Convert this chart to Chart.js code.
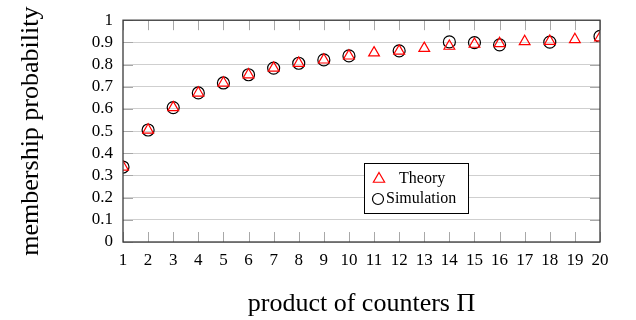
<!DOCTYPE html>
<html>
<head>
<meta charset="utf-8">
<script src="https://cdn.jsdelivr.net/npm/chart.js@4.4.0/dist/chart.umd.min.js"></script>
<style>
html,body{margin:0;padding:0;background:#fff;}
#wrap{width:636px;height:320px;position:relative;}
</style>
</head>
<body>
<div id="wrap"><canvas id="c" width="636" height="320"></canvas></div>
<script>
const products = [1,2,3,4,5,6,7,8,9,10,11,12,13,14,15,16,17,18,19,20];
const theory = [0.338,0.505,0.606,0.672,0.717,0.754,0.784,0.806,0.821,0.839,0.853,0.861,0.873,0.883,0.892,0.895,0.904,0.905,0.913,0.921];
const simProducts = [1,2,3,4,5,6,7,8,9,10,12,14,15,16,18,20];
const simulation = [0.338,0.505,0.606,0.672,0.717,0.754,0.784,0.806,0.821,0.839,0.862,0.902,0.899,0.889,0.901,0.927];
const yTickLabels = ['0','0.1','0.2','0.3','0.4','0.5','0.6','0.7','0.8','0.9','1'];
const xTitle = 'product of counters Π';
const yTitle = 'membership probability';
const seriesNames = ['Theory','Simulation'];

const FONT = "'Liberation Serif', 'DejaVu Serif', serif";

const innerTicks = {
  id: 'innerTicks',
  afterDraw(chart) {
    const {ctx, chartArea: a, scales} = chart;
    ctx.save();
    ctx.strokeStyle = '#a8a8a8';
    ctx.lineWidth = 1;
    const L = 10;
    scales.x.ticks.forEach(t => {
      const x = Math.round(scales.x.getPixelForValue(t.value)) + 0.5;
      ctx.beginPath();
      ctx.moveTo(x, a.bottom); ctx.lineTo(x, a.bottom - L);
      ctx.moveTo(x, a.top); ctx.lineTo(x, a.top + L);
      ctx.stroke();
    });
    scales.y.ticks.forEach(t => {
      const y = Math.round(scales.y.getPixelForValue(t.value)) + 0.5;
      ctx.beginPath();
      ctx.moveTo(a.right, y); ctx.lineTo(a.right - L, y);
      ctx.moveTo(a.left, y); ctx.lineTo(a.left + L, y);
      ctx.stroke();
    });
    ctx.strokeStyle = '#3a3a3a';
    ctx.lineWidth = 1.3;
    ctx.strokeRect(a.left, a.top, a.right - a.left, a.bottom - a.top);
    ctx.restore();
  }
};

const boxLegend = {
  id: 'boxLegend',
  afterDatasetsDraw(chart) {
    const ctx = chart.ctx;
    ctx.save();
    const bx = 364.5, by = 163.5, bw = 104, bh = 50;
    ctx.fillStyle = '#fff';
    ctx.fillRect(bx, by, bw, bh);
    ctx.strokeStyle = '#000';
    ctx.lineWidth = 1;
    ctx.strokeRect(bx, by, bw, bh);
    const ds = chart.data.datasets;
    ctx.strokeStyle = ds[0].borderColor; ctx.lineWidth = 1.2;
    ctx.beginPath();
    const r = 6.5, cx = 379, cy = 179;
    ctx.moveTo(cx, cy - r);
    ctx.lineTo(cx + r*Math.sin(2*Math.PI/3), cy - r*Math.cos(2*Math.PI/3));
    ctx.lineTo(cx + r*Math.sin(4*Math.PI/3), cy - r*Math.cos(4*Math.PI/3));
    ctx.closePath();
    ctx.stroke();
    ctx.strokeStyle = ds[1].borderColor;
    ctx.beginPath();
    ctx.arc(378, 199, 5.5, 0, Math.PI*2);
    ctx.stroke();
    ctx.fillStyle = '#000';
    ctx.font = "16px " + FONT;
    ctx.textBaseline = 'middle';
    ctx.textAlign = 'left';
    ctx.fillText(seriesNames[0], 399, 179);
    ctx.fillText(seriesNames[1], 386, 199);
    ctx.restore();
  }
};

new Chart(document.getElementById('c'), {
  type: 'scatter',
  data: {
    datasets: [
      {
        label: seriesNames[0],
        data: products.map((x, i) => ({x, y: theory[i]})),
        pointStyle: 'triangle',
        pointRadius: 6.2,
        pointBorderWidth: 1.2,
        borderColor: '#ff0000',
        backgroundColor: 'rgba(0,0,0,0)',
        pointBackgroundColor: 'rgba(0,0,0,0)'
      },
      {
        label: seriesNames[1],
        data: simProducts.map((x, i) => ({x, y: simulation[i]})),
        pointStyle: 'circle',
        pointRadius: 6,
        pointBorderWidth: 1.2,
        borderColor: '#000000',
        backgroundColor: 'rgba(0,0,0,0)',
        pointBackgroundColor: 'rgba(0,0,0,0)'
      }
    ]
  },
  options: {
    responsive: false,
    animation: false,
    devicePixelRatio: 1,
    layout: { padding: { left: 0, right: 36, top: 17, bottom: 0 } },
    plugins: {
      legend: { display: false },
      tooltip: { enabled: false }
    },
    scales: {
      x: {
        type: 'linear',
        min: 1, max: 20,
        afterFit(s) { s.height = 78; },
        ticks: {
          stepSize: 1,
          padding: 8,
          color: '#000',
          font: { family: FONT, size: 17 },
          maxRotation: 0,
          autoSkip: false
        },
        grid: { display: false, drawTicks: false },
        border: { display: false },
        title: {
          display: true,
          text: xTitle,
          color: '#000',
          font: { family: FONT, size: 26 },
          padding: { top: 0, bottom: 0 }
        }
      },
      y: {
        type: 'linear',
        min: 0, max: 1,
        afterFit(s) { s.width = 123; },
        ticks: {
          stepSize: 0.1,
          padding: 10,
          autoSkip: false,
          color: '#000',
          font: { family: FONT, size: 17 },
          callback(v, i) { return yTickLabels[i]; }
        },
        grid: { display: true, drawTicks: false, color: '#cfcfcf', lineWidth: 1 },
        border: { display: false },
        title: {
          display: true,
          text: yTitle,
          color: '#000',
          font: { family: FONT, size: 26 },
          padding: { top: 16, bottom: 0 }
        }
      }
    }
  },
  plugins: [innerTicks, boxLegend]
});
</script>
</body>
</html>
